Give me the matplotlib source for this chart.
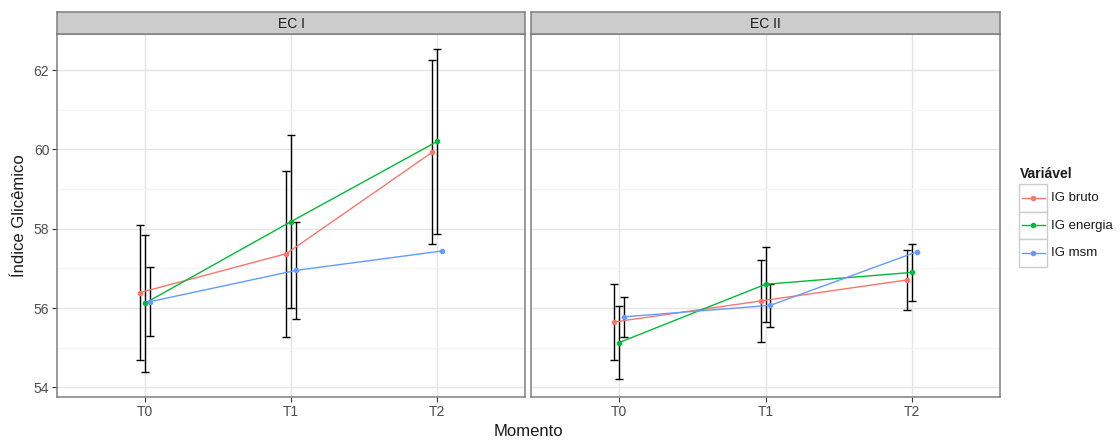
import numpy as np
import matplotlib
matplotlib.use("Agg")
import matplotlib.pyplot as plt
from matplotlib.patches import Rectangle

plt.rcParams['font.family'] = ['Liberation Sans', 'DejaVu Sans']

momentos = ['T0', 'T1', 'T2']
paineis = ['EC I', 'EC II']
variaveis = ['IG bruto', 'IG energia', 'IG msm']
cores = ['#F8766D', '#00BA38', '#619CFF']

# media e desvio por painel / variavel
media = {
    'EC I': {'IG bruto': [56.39, 57.37, 59.93],
             'IG energia': [56.12, 58.18, 60.20],
             'IG msm': [56.16, 56.95, 57.44]},
    'EC II': {'IG bruto': [55.65, 56.18, 56.71],
              'IG energia': [55.13, 56.60, 56.90],
              'IG msm': [55.78, 56.07, 57.42]},
}
dp = {
    'EC I': {'IG bruto': [1.70, 2.09, 2.32],
             'IG energia': [1.725, 2.18, 2.33],
             'IG msm': [0.87, 1.23, np.nan]},
    'EC II': {'IG bruto': [0.97, 1.025, 0.765],
              'IG energia': [0.925, 0.94, 0.725],
              'IG msm': [0.50, 0.535, np.nan]},
}

W, H = 1120, 441
fig = plt.figure(figsize=(W / 100, H / 100), dpi=100)

def fx(px):
    return px / W

def fy(py):
    return 1 - py / H

borda = '#7F7F7F'
paineis_px = [(57, 525), (531, 1000)]
top, bot, strip_top = 33.5, 397, 11.7
x = np.arange(1, 4)
desloc = np.array([-1, 0, 1]) * 0.1 / 3

for k, nome in enumerate(paineis):
    l, r = paineis_px[k]
    ax = fig.add_axes([fx(l), fy(bot), fx(r - l), fy(top) - fy(bot)])
    ax.set_xlim(0.4, 3.6)
    ax.set_ylim(53.76, 62.92)
    ax.set_yticks([54, 56, 58, 60, 62])
    ax.set_yticks([55, 57, 59, 61], minor=True)
    ax.set_xticks(x)
    ax.set_xticklabels(momentos)
    ax.grid(True, which='major', color='#E5E5E5', lw=1.0)
    ax.grid(True, which='minor', axis='y', color='#F5F5F5', lw=1.0)
    ax.set_axisbelow(True)
    for s in ax.spines.values():
        s.set_color(borda)
        s.set_linewidth(1.1)
    ax.tick_params(which='major', length=3.5, width=0.8, color='#333333',
                   labelsize=10, labelcolor='#4D4D4D', pad=2)
    ax.tick_params(which='minor', length=0)
    if k == 1:
        ax.set_yticklabels([])
        ax.tick_params(axis='y', length=0)
    for j, v in enumerate(variaveis):
        xs = x + desloc[j]
        ax.errorbar(xs, media[nome][v], yerr=dp[nome][v], fmt='none',
                    ecolor='black', elinewidth=1.0, capsize=3, capthick=1.0,
                    zorder=2)
    for j, v in enumerate(variaveis):
        xs = x + desloc[j]
        ax.plot(xs, media[nome][v], color=cores[j], lw=1.0, marker='o',
                ms=3, zorder=3)
    # faixa do painel
    sx = fig.add_axes([fx(l), fy(top), fx(r - l), fy(strip_top) - fy(top)])
    sx.set_facecolor('#CCCCCC')
    sx.set_xticks([])
    sx.set_yticks([])
    for s in sx.spines.values():
        s.set_color(borda)
        s.set_linewidth(1.1)
    sx.text(0.5, 0.45, nome, ha='center', va='center', fontsize=10,
            color='#1A1A1A', transform=sx.transAxes)

fig.text(fx(20), fy((top + bot) / 2), 'Índice Glicêmico', rotation=90,
         ha='center', va='center', fontsize=12, color='#1A1A1A')
fig.text(fx(528), fy(432), 'Momento', ha='center', va='center',
         fontsize=12, color='#1A1A1A')

# legenda
fig.text(fx(1020), fy(173.5), 'Variável', ha='left', va='center',
         fontsize=10, fontweight='bold', color='#1A1A1A')
lg = fig.add_axes([fx(1019.3), fy(266.7), fx(28), fy(184) - fy(266.7)])
lg.set_xlim(0, 1)
lg.set_ylim(0, 3)
lg.axis('off')
for j, v in enumerate(variaveis):
    y0 = 2 - j
    lg.add_patch(Rectangle((0, y0), 1, 1, facecolor='white',
                           edgecolor='#CCCCCC', lw=1.0, clip_on=False))
    lg.plot([0.1, 0.9], [y0 + 0.5, y0 + 0.5], color=cores[j], lw=1.0)
    lg.plot([0.5], [y0 + 0.5], color=cores[j], marker='o', ms=3)
    fig.text(fx(1051), fy(198 + 27.5 * j), v, ha='left', va='center',
             fontsize=9.5, color='#1A1A1A')

fig.savefig('out.png', dpi=100)
